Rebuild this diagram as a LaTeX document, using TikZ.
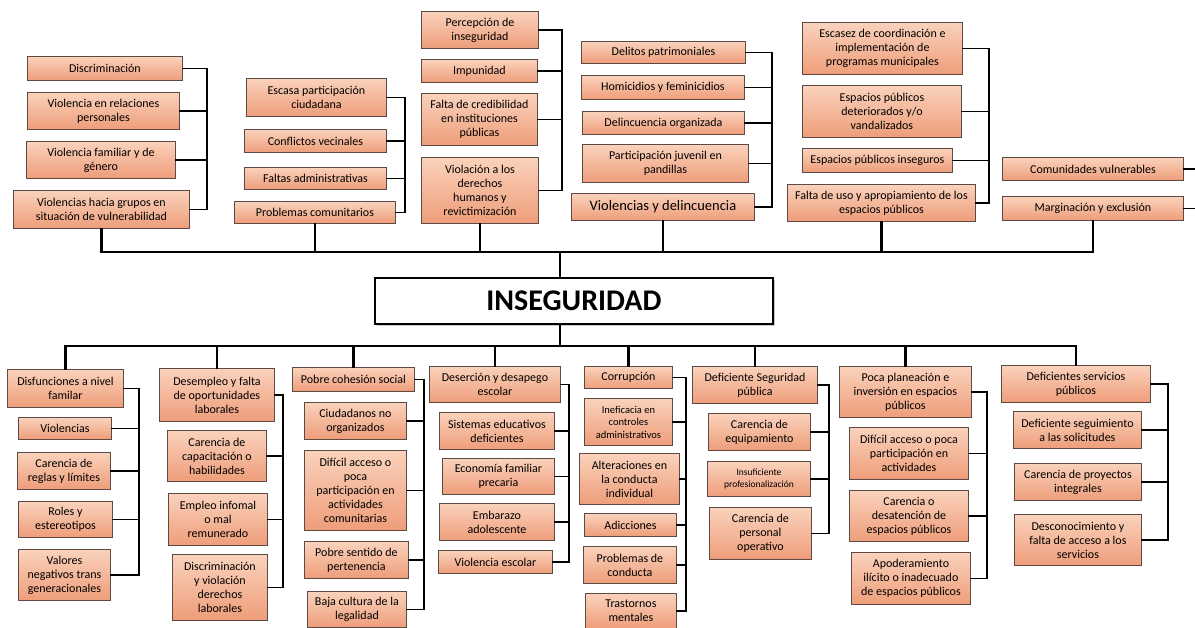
\documentclass[tikz,border=0pt]{standalone}
\usepackage{fontspec}
\setmainfont{Carlito}
\usepackage{tikz}
\usetikzlibrary{shadows}
\definecolor{salmonT}{HTML}{FAD2BC}
\definecolor{salmonB}{HTML}{EE9D7A}
\definecolor{borde}{HTML}{5E4A42}
\tikzset{
  causa/.style 2 args={draw=borde,line width=0.9pt,top color=salmonT,bottom color=salmonB,
    anchor=north west,align=center,inner sep=0pt,minimum width=#1,minimum height=#2,
    drop shadow={shadow xshift=1pt,shadow yshift=-1pt,fill=black!30},
    font=\fontsize{12}{14}\selectfont},
  chica/.style={font=\fontsize{9.5}{12}\selectfont},
  rama/.style={line width=1.8pt,line cap=rect},
  tronco/.style={line width=2.6pt,line cap=rect}}

\begin{document}
\begin{tikzpicture}[x=1pt,y=-1pt]
\useasboundingbox (0,0) rectangle (1195,628);
% ejes de las ramas
\coordinate (busT) at (0,252);
\coordinate (busB) at (0,346);
\coordinate (eje) at (560,0);
\foreach \i/\x in {1/207,2/405,3/562,4/772,5/989,6/139,7/283,8/424,9/569,10/686,11/829,12/987,13/1168,14/1195}
  \coordinate (b\i) at (\x,0);

% problema central
\node[draw=black,line width=1.8pt,fill=white,anchor=north west,minimum width=398,minimum height=46,
  drop shadow={shadow xshift=2.5pt,shadow yshift=-2.5pt,fill=black!40},
  font=\fontsize{30}{34}\selectfont\bfseries] (ins) at (374,277) {INSEGURIDAD};

% efectos (arriba)
\node[causa={155}{24}] (dis) at (27,56) {Discriminación};
\node[causa={152}{37}] (vrp) at (27,92) {Violencia en relaciones\\personales};
\node[causa={149}{37}] (vfg) at (26,141) {Violencia familiar y de\\género};
\node[causa={176}{38}] (vhg) at (13,190) {Violencias hacia grupos en\\situación de vulnerabilidad};

\node[causa={140}{38}] (epc) at (246,78) {Escasa participación\\ciudadana};
\node[causa={142}{23}] (cvn) at (244,129) {Conflictos vecinales};
\node[causa={142}{22}] (fad) at (244,167) {Faltas administrativas};
\node[causa={161}{22}] (pcm) at (234,201) {Problemas comunitarios};

\node[causa={117}{37}] (pin) at (421,11) {Percepción de\\inseguridad};
\node[causa={116}{23}] (imp) at (421,59) {Impunidad};
\node[causa={116}{52}] (fcr) at (421,93) {Falta de credibilidad\\en instituciones\\públicas};
\node[causa={117}{66}] (vdh) at (421,157) {Violación a los\\derechos\\humanos y\\revictimización};

\node[causa={164}{22}] (dpa) at (581,41) {Delitos patrimoniales};
\node[causa={163}{24}] (hfe) at (581,75) {Homicidios y feminicidios};
\node[causa={162}{23}] (dor) at (582,111) {Delincuencia organizada};
\node[causa={166}{38}] (pju) at (582,144) {Participación juvenil en\\pandillas};
\node[causa={183}{27},font=\fontsize{14.5}{17}\selectfont] (vyd) at (571,193) {Violencias y delincuencia};

\node[causa={160}{52}] (ecm) at (802,22) {Escasez de coordinación e\\implementación de\\programas municipales};
\node[causa={159}{52}] (epd) at (802,85) {Espacios públicos\\deteriorados y/o\\vandalizados};
\node[causa={150}{24}] (epi) at (802,148) {Espacios públicos inseguros};
\node[causa={188}{37}] (fua) at (787,184) {Falta de uso y apropiamiento de los\\espacios públicos};

\node[causa={181}{23}] (cvu) at (1002,157) {Comunidades vulnerables};
\node[causa={181}{24}] (mye) at (1002,196) {Marginación y exclusión};

% causas (abajo)
\node[causa={116}{38}] (dfa) at (7,369) {Disfunciones a nivel\\familar};
\node[causa={93}{22}] (vio) at (18,417) {Violencias};
\node[causa={93}{37}] (crl) at (17,452) {Carencia de\\reglas y límites};
\node[causa={94}{36}] (rye) at (18,501) {Roles y\\estereotipos};
\node[causa={92}{51}] (vnt) at (18,549) {Valores\\negativos trans\\generacionales};

\node[causa={115}{53}] (dfo) at (159,368) {Desempleo y falta\\de oportunidades\\laborales};
\node[causa={99}{51}] (cch) at (167,430) {Carencia de\\capacitación o\\habilidades};
\node[causa={99}{52}] (eim) at (168,493) {Empleo infomal\\o mal\\remunerado};
\node[causa={95}{66}] (dvd) at (172,554) {Discriminación\\y violación\\derechos\\laborales};

\node[causa={122}{24}] (pcs) at (292,367) {Pobre cohesión social};
\node[causa={102}{37}] (cno) at (304,402) {Ciudadanos no\\organizados};
\node[causa={102}{80}] (dap) at (304,450) {Difícil acceso o\\poca\\participación en\\actividades\\comunitarias};
\node[causa={104}{37}] (pse) at (304,541) {Pobre sentido de\\pertenencia};
\node[causa={99}{36}] (bcl) at (307,591) {Baja cultura de la\\legalidad};

\node[causa={131}{36}] (dde) at (429,366) {Deserción y desapego\\escolar};
\node[causa={115}{37}] (sed) at (439,412) {Sistemas educativos\\deficientes};
\node[causa={112}{36}] (efp) at (442,458) {Economía familiar\\precaria};
\node[causa={115}{37}] (ead) at (439,503) {Embarazo\\adolescente};
\node[causa={114}{23}] (ves) at (438,550) {Violencia escolar};

\node[causa={88}{22}] (cor) at (584,366) {Corrupción};
\node[causa={88}{47},font=\fontsize{10.5}{12.5}\selectfont] (ica) at (584,398) {Ineficacia en\\controles\\administrativos};
\node[causa={100}{51}] (acd) at (579,453) {Alteraciones en\\la conducta\\individual};
\node[causa={92}{23}] (adi) at (584,513) {Adicciones};
\node[causa={93}{37}] (pdc) at (583,546) {Problemas de\\conducta};
\node[causa={91}{35}] (tme) at (585,593) {Trastornos\\mentales};

\node[causa={125}{37}] (dsp) at (692,366) {Deficiente Seguridad\\pública};
\node[causa={102}{37}] (ceq) at (708,413) {Carencia de\\equipamiento};
\node[causa={103}{35},chica] (ipr) at (707,461) {Insuficiente\\profesionalización};
\node[causa={102}{52}] (cpo) at (709,507) {Carencia de\\personal\\operativo};

\node[causa={132}{51}] (ppi) at (839,366) {Poca planeación e\\inversión en espacios\\públicos};
\node[causa={119}{52}] (dpp) at (849,427) {Difícil acceso o poca\\participación en\\actividades};
\node[causa={119}{51}] (cde) at (849,490) {Carencia o\\desatención de\\espacios públicos};
\node[causa={119}{52}] (aii) at (851,552) {Apoderamiento\\ilícito o inadecuado\\de espacios públicos};

\node[causa={149}{37}] (dsv) at (1001,365) {Deficientes servicios\\públicos};
\node[causa={128}{37}] (dss) at (1013,411) {Deficiente seguimiento\\a las solicitudes};
\node[causa={127}{37}] (cpi) at (1014,463) {Carencia de proyectos\\integrales};
\node[causa={127}{51}] (dfs) at (1014,514) {Desconocimiento y\\falta de acceso a los\\servicios};

% ramas
\foreach \g/\a/\z/\lista in {1/dis/vhg/{dis,vrp,vfg,vhg},2/epc/pcm/{epc,cvn,fad,pcm},
  3/pin/vdh/{pin,imp,fcr,vdh},4/dpa/vyd/{dpa,hfe,dor,pju,vyd},5/ecm/fua/{ecm,epd,epi,fua},
  6/dfa/vnt/{dfa,vio,crl,rye,vnt},7/dfo/dvd/{dfo,cch,eim,dvd},8/pcs/bcl/{pcs,cno,dap,pse,bcl},
  9/dde/ves/{dde,sed,efp,ead,ves},10/cor/tme/{cor,ica,acd,adi,pdc,tme},11/dsp/cpo/{dsp,ceq,ipr,cpo},
  12/ppi/aii/{ppi,dpp,cde,aii},13/dsv/dfs/{dsv,dss,cpi,dfs}}{
  \foreach \n in \lista {\draw[rama] (\n.east) -- (\n.east -| b\g);}
  \draw[rama] (\a.east -| b\g) -- (\z.east -| b\g);}
\foreach \n in {cvu,mye} \draw[rama] (\n.east) -- (\n.east -| b14);

% troncos
\foreach \n in {vhg,pcm,vdh,vyd,fua,mye} \draw[tronco] (\n.south) -- (\n.south |- busT);
\draw[tronco] (vhg.south |- busT) -- (mye.south |- busT);
\draw[tronco] (eje |- busT) -- (eje |- ins.north);
\draw[tronco] (eje |- ins.south) -- (eje |- busB);
\foreach \n in {dfa,dfo,pcs,dde,cor,dsp,ppi,dsv} \draw[tronco] (\n.north) -- (\n.north |- busB);
\draw[tronco] (dfa.north |- busB) -- (dsv.north |- busB);
\end{tikzpicture}
\end{document}
